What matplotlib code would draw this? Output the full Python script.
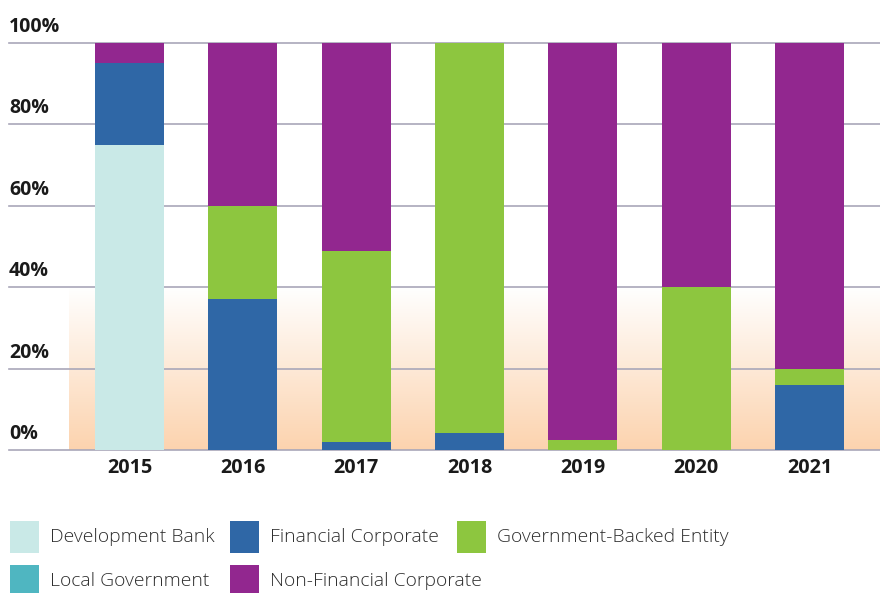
import numpy as np
import matplotlib
matplotlib.use("Agg")
import matplotlib.pyplot as plt
from matplotlib.patches import Rectangle

# Share of issuance by issuer type (%)
years = ["2015", "2016", "2017", "2018", "2019", "2020", "2021"]
development_bank = [75, 0, 0, 0, 0, 0, 0]
financial_corporate = [20, 37, 2, 4.2, 0, 0, 16]
government_backed = [0, 23, 47, 95.8, 2.5, 40, 4]
local_government = [0, 0, 0, 0, 0, 0, 0]
non_financial_corporate = [5, 40, 51, 0, 97.5, 60, 80]

series_names = ["Development Bank", "Financial Corporate", "Government-Backed Entity",
                "Local Government", "Non-Financial Corporate"]
series_values = [development_bank, financial_corporate, government_backed,
                 local_government, non_financial_corporate]
series_colors = ["#C9E9E7", "#2F67A6", "#8DC63F", "#4FB6C1", "#92278F"]

y_ticks = [0, 20, 40, 60, 80, 100]
y_tick_labels = ["0%", "20%", "40%", "60%", "80%", "100%"]

W, H = 880, 593
fig = plt.figure(figsize=(W / 100, H / 100), dpi=100)
ax_left, ax_right, ax_top, ax_bottom = 69, 880, 43, 450
ax = fig.add_axes([ax_left / W, 1 - ax_bottom / H,
                   (ax_right - ax_left) / W, (ax_bottom - ax_top) / H])

x = np.arange(len(years))
xlim = (-0.534, 6.622)
ax.set_xlim(*xlim)
ax.set_ylim(0, 100)

# warm gradient band behind the lower part of the plot
grad = np.linspace(0, 1, 256)[:, None]
bottom_rgb = np.array([252, 211, 174]) / 255
top_rgb = np.array([255, 255, 255]) / 255
img = bottom_rgb[None, None, :] * (1 - grad[:, :, None]) + top_rgb[None, None, :] * grad[:, :, None]
ax.imshow(img, extent=[xlim[0], xlim[1], 0, 40], origin="lower", aspect="auto",
          zorder=0, interpolation="bilinear")

# gridlines running out under the left labels
ext = -(ax_left - 9) / (ax_right - ax_left)
for t in y_ticks:
    ax.axhline(t, xmin=ext, xmax=1, color="#A9A7B9", lw=1.2, zorder=1, clip_on=False)

# stacked bars
bottom = np.zeros(len(years))
for name, vals, col in zip(series_names, series_values, series_colors):
    v = np.array(vals, dtype=float)
    ax.bar(x, v, bottom=bottom, width=0.61, color=col, zorder=2, linewidth=0)
    bottom += v

for s in ax.spines.values():
    s.set_visible(False)
ax.set_xticks([])
ax.set_yticks([])

# y labels sit above their gridlines at the far left
for t, lab in zip(y_ticks, y_tick_labels):
    y_px = ax_bottom - (ax_bottom - ax_top) * t / 100 - 11
    fig.text(9 / W, 1 - y_px / H, lab,
             fontsize=14, fontweight="bold", family="Open Sans", color="#1a1a1a",
             ha="left", va="baseline")

for xi, yr in zip(x, years):
    ax.text(xi, -4.3, yr, fontsize=14.2, fontweight="bold", family="Open Sans",
            color="#1a1a1a", ha="center", va="center")

# legend built row by row
legend_cols = [10, 230, 457]
legend_rows = [537, 581]
for i, (name, col) in enumerate(zip(series_names, series_colors)):
    r, c = divmod(i, 3)
    px, py = legend_cols[c], legend_rows[r]
    fig.add_artist(Rectangle((px / W, 1 - (py + 16) / H), 29 / W, 32 / H,
                             transform=fig.transFigure, color=col, lw=0))
    fig.text((px + 40) / W, 1 - py / H, name, fontsize=13.9, fontweight="light",
             family="Open Sans", color="#2e2e2e", ha="left", va="center")

fig.savefig("out.png", dpi=100)
